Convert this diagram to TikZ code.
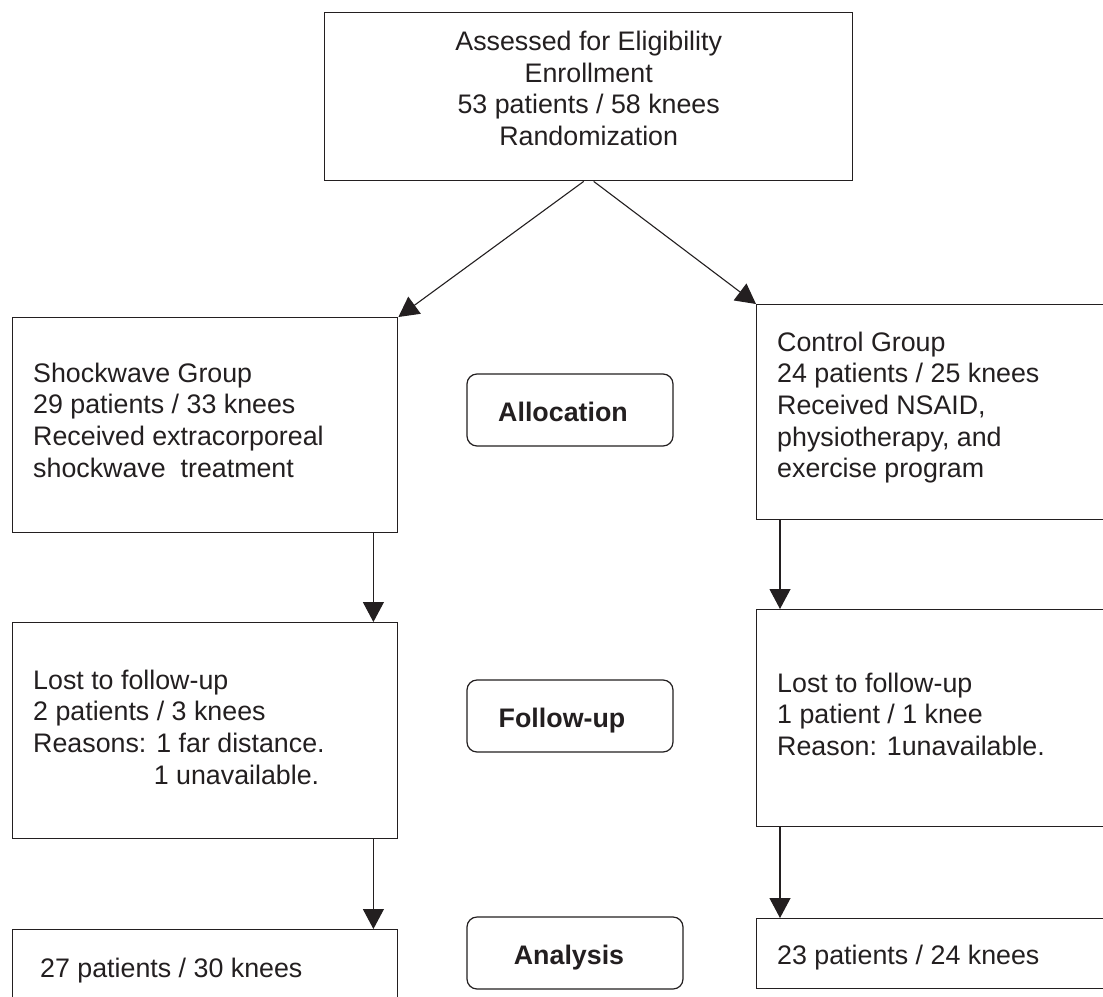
\documentclass[tikz,border=0pt]{standalone}
\usepackage{fontspec}
\setmainfont{Liberation Sans}
\usetikzlibrary{arrows.meta}
\definecolor{ink}{RGB}{35,31,32}
\begin{document}
\begin{tikzpicture}[x=1pt,y=-1pt,
  basefont/.style={font=\fontsize{26.8pt}{31.6pt}\selectfont},
  box/.style={draw=ink, line width=1.4pt, rectangle, inner sep=0pt, anchor=north west},
  stage/.style={draw=ink, line width=1.2pt, rectangle, rounded corners=10pt, inner sep=0pt,
    font=\fontsize{26.8pt}{31.6pt}\selectfont\bfseries, text=ink, text height=23pt, text depth=0pt},
  txt/.style={basefont, text=ink, inner sep=0pt, align=left, anchor=north west},
  arr/.style={draw=ink, line width=1.1pt, -{Triangle[length=20pt,width=21pt]}}
]
\useasboundingbox (0,0) rectangle (1103,996);
\fill[white] (0,0) rectangle (1103,996);
\clip (0,0) rectangle (1103,996);

% main boxes
\node[box, minimum width=528pt, minimum height=168pt] (top) at (324,12) {};
\node[txt, anchor=north, align=center] (topT) at ([yshift=-19pt]top.north)
  {Assessed for Eligibility\\Enrollment\\53 patients / 58 knees\\Randomization};

\node[box, minimum width=385pt, minimum height=215pt] (shock) at (12,317) {};
\node[txt] (shockT) at ([xshift=21pt,yshift=-45.7pt]shock.north west)
  {Shockwave Group\\29 patients / 33 knees\\Received extracorporeal\\shockwave\ \ treatment};

\node[box, minimum width=400pt, minimum height=215pt] (ctrl) at (756,304) {};
\node[txt] (ctrlT) at ([xshift=21pt,yshift=-27.7pt]ctrl.north west)
  {Control Group\\24 patients / 25 knees\\Received NSAID,\\physiotherapy, and\\exercise program};

\node[box, minimum width=385pt, minimum height=216pt] (lostL) at (12,622) {};
\node[txt] (lostLT) at ([xshift=21pt,yshift=-47.7pt]lostL.north west)
  {Lost to follow-up\\2 patients / 3 knees\\Reasons: 1 far distance.\\\hphantom{Reasons:\ }1 unavailable.};

\node[box, minimum width=400pt, minimum height=217pt] (lostR) at (756,609) {};
\node[txt] (lostRT) at ([xshift=21pt,yshift=-63.7pt]lostR.north west)
  {Lost to follow-up\\1 patient / 1 knee\\Reason: 1unavailable.};

\node[box, minimum width=385pt, minimum height=100pt] (resL) at (12,929) {};
\node[txt] (resLT) at ([xshift=28pt,yshift=-29pt]resL.north west) {27 patients / 30 knees};

\node[box, minimum width=400pt, minimum height=70pt] (resR) at (756,918) {};
\node[txt] (resRT) at ([xshift=21pt,yshift=-27pt]resR.north west) {23 patients / 24 knees};

% stage labels
\node[stage, minimum width=206pt, minimum height=72pt] (alloc) at (570,410) {Allocation\rule{14pt}{0pt}};
\node[stage, minimum width=206pt, minimum height=72pt] (follow) at (570,716) {Follow-up\rule{16pt}{0pt}};
\node[stage, minimum width=216pt, minimum height=72pt] (analysis) at (575,953) {Analysis\rule{12pt}{0pt}};

% connectors
\draw[arr] ([xshift=-5pt]top.south) -- (shock.north east);
\draw[arr] ([xshift=5pt]top.south) -- (ctrl.north west);
\draw[arr] ([xshift=-25pt]shock.south east) -- ([xshift=-25pt]lostL.north east);
\draw[arr] ([xshift=-25pt]lostL.south east) -- ([xshift=-25pt]resL.north east);
\draw[arr] ([xshift=24pt]ctrl.south west) -- ([xshift=24pt]lostR.north west);
\draw[arr] ([xshift=24pt]lostR.south west) -- ([xshift=24pt]resR.north west);
\end{tikzpicture}
\end{document}
